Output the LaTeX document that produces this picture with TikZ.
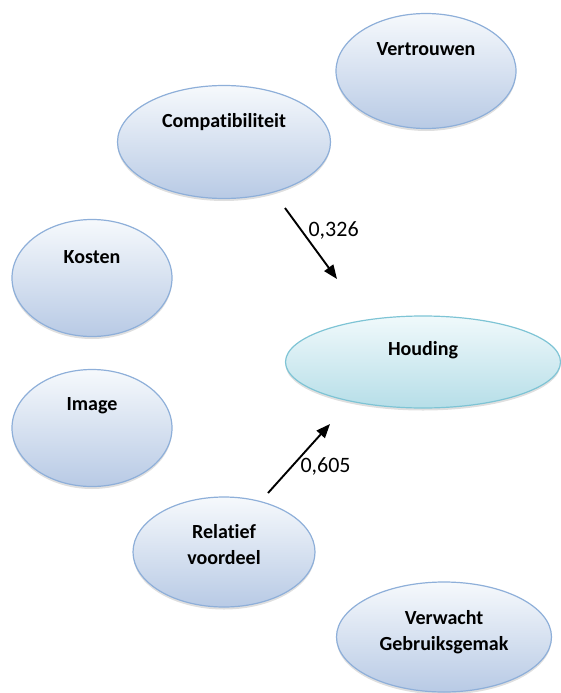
\documentclass[tikz,border=0pt]{standalone}
\usepackage{fontspec}
\setmainfont{Carlito}[Ligatures=NoCommon]
\usepackage{xcolor}
\usetikzlibrary{positioning, arrows.meta, shapes.geometric, shadows}
\definecolor{fctop}{RGB}{246, 249, 252}
\definecolor{fcblue}{RGB}{184, 202, 229}
\definecolor{fcedge}{RGB}{142, 175, 217}
\definecolor{hdtop}{RGB}{240, 249, 251}
\definecolor{hdcyan}{RGB}{182, 222, 232}
\definecolor{hdedge}{RGB}{126, 196, 213}
\tikzset{
    factor/.style={ellipse, draw=fcedge, line width=1.2pt, inner sep=0pt,
        top color=fctop, bottom color=fcblue,
        drop shadow={opacity=0.25, shadow xshift=0pt, shadow yshift=-2.5pt}},
    outcome/.style={factor, draw=hdedge, top color=hdtop, bottom color=hdcyan},
    factortext/.style={font=\fontsize{20}{26}\selectfont\bfseries, align=center, inner sep=0pt},
    effect/.style={line width=1.9pt, -{Triangle[length=14pt, width=11pt]}},
    coef/.style={font=\fontsize{22}{26}\selectfont, anchor=west, inner sep=0pt}
}
\begin{document}
\begin{tikzpicture}[x=1pt, y=-1pt]
    \useasboundingbox (0,0) rectangle (561,693);
    % ellipses
    \node[factor, minimum width=180, minimum height=115] (vertrouwen) at (426,71) {};
    \node[factor, minimum width=213, minimum height=113] (compat) at (224,142) {};
    \node[factor, minimum width=160, minimum height=117] (kosten) at (92,278) {};
    \node[factor, minimum width=160, minimum height=117] (image) at (92,428) {};
    \node[outcome, minimum width=275, minimum height=92] (houding) at (423,362) {};
    \node[factor, minimum width=182, minimum height=110] (relatief) at (224,552) {};
    \node[factor, minimum width=215, minimum height=110] (verwacht) at (444,637) {};
    % texts
    \node[factortext] (vertrouwen-t) at ([yshift=22pt]vertrouwen.center) {Vertrouwen};
    \node[factortext] (compat-t) at ([yshift=20pt]compat.center) {Compatibiliteit};
    \node[factortext] (kosten-t) at ([yshift=21pt]kosten.center) {Kosten};
    \node[factortext] (image-t) at ([yshift=22pt]image.center) {Image};
    \node[factortext] (houding-t) at ([yshift=12pt]houding.center) {Houding};
    \node[factortext] (relatief-t) at ([yshift=7pt]relatief.center) {Relatief\\voordeel};
    \node[factortext] (verwacht-t) at ([yshift=5pt]verwacht.center) {Verwacht\\Gebruiksgemak};
    % effects
    \coordinate (compat-e) at (285,208);
    \coordinate (houding-n) at (337,279);
    \coordinate (relatief-e) at (268,493);
    \coordinate (houding-s) at (330,424);
    \draw[effect] (compat-e) -- node[coef, pos=0.32, xshift=6pt] {0,326} (houding-n);
    \draw[effect] (relatief-e) -- node[coef, pos=0.38, xshift=8pt] {0,605} (houding-s);
\end{tikzpicture}
\end{document}
